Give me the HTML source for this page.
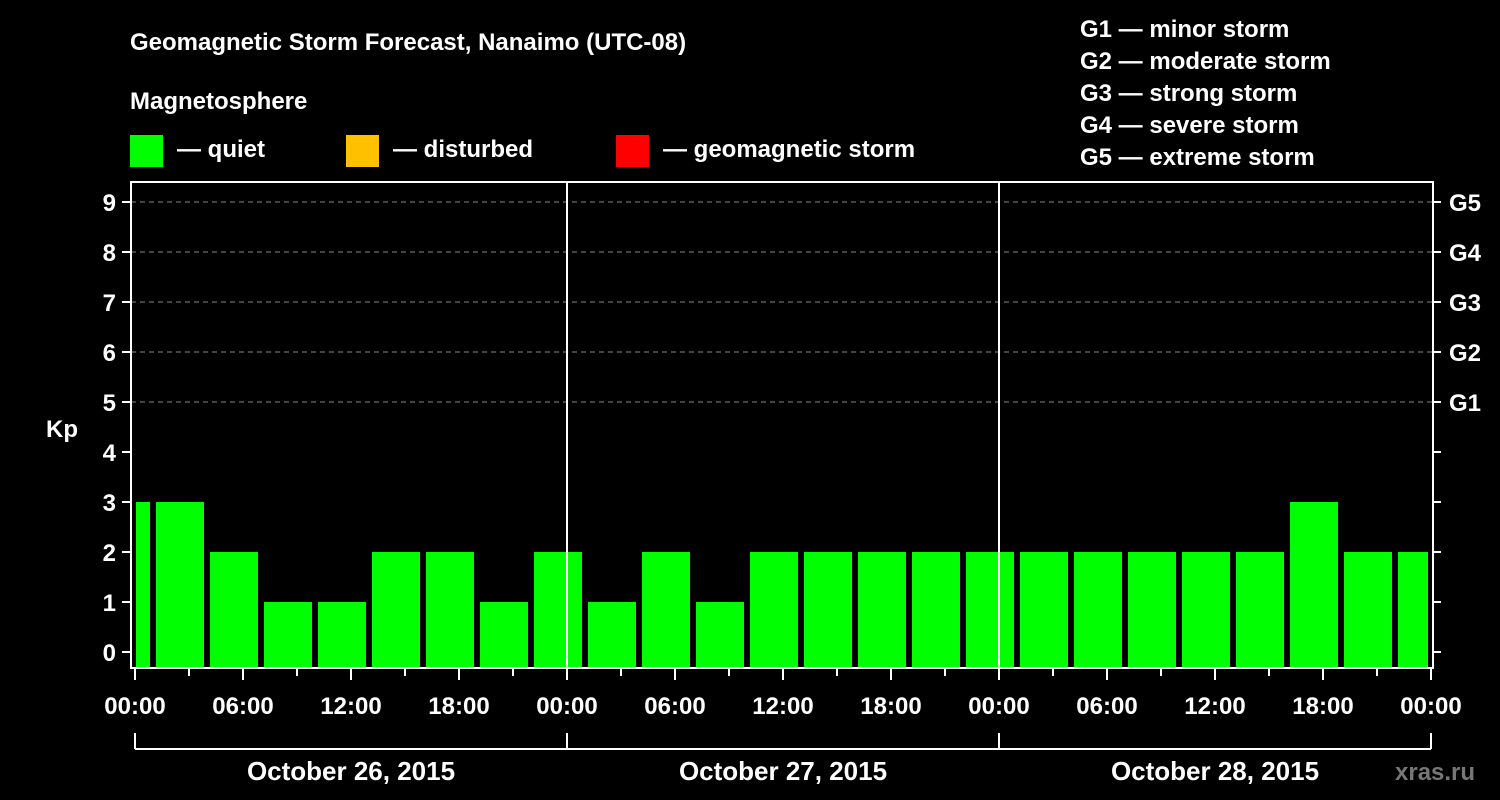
<!DOCTYPE html>
<html><head><meta charset="utf-8"><style>
html,body{margin:0;padding:0;background:#000;}
svg{display:block;font-family:"Liberation Sans",Arial,sans-serif;font-weight:bold;}
</style></head><body>
<svg id="chart" width="1500" height="800" viewBox="0 0 1500 800">
<rect x="0" y="0" width="1500" height="800" fill="#000"/>
<text x="130" y="50" fill="#fff" font-size="24">Geomagnetic Storm Forecast, Nanaimo (UTC-08)</text>
<text x="130" y="109" fill="#fff" font-size="24">Magnetosphere</text>
<g><rect x="130" y="135" width="33" height="32" fill="#00ff00"/><text x="177" y="157" fill="#fff" font-size="24">— quiet</text></g>
<g><rect x="346" y="135" width="33" height="32" fill="#ffc000"/><text x="393" y="157" fill="#fff" font-size="24">— disturbed</text></g>
<g><rect x="616" y="135" width="33" height="32" fill="#ff0000"/><text x="663" y="157" fill="#fff" font-size="24">— geomagnetic storm</text></g>
<g fill="#fff" font-size="24">
<text x="1080" y="37">G1 — minor storm</text>
<text x="1080" y="69">G2 — moderate storm</text>
<text x="1080" y="101">G3 — strong storm</text>
<text x="1080" y="133">G4 — severe storm</text>
<text x="1080" y="165">G5 — extreme storm</text>
</g>
<text x="62" y="437" fill="#fff" font-size="24" text-anchor="middle">Kp</text>
<text x="1395" y="780" fill="#777" font-size="24">xras.ru</text>
<g id="grid"></g><g id="bars"></g><g id="axes"></g>
</svg>
<script>
const kpValues = [3,3,2,1,1,2,2,1,2,1,2,1,2,2,2,2,2,2,2,2,2,2,3,2,2];
const barStartHours = [-2,1,4,7,10,13,16,19,22,25,28,31,34,37,40,43,46,49,52,55,58,61,64,67,70];
const yTickLabels = ["0","1","2","3","4","5","6","7","8","9"];
const gLabels = ["G1","G2","G3","G4","G5"];
const xTickLabels = ["00:00","06:00","12:00","18:00","00:00","06:00","12:00","18:00","00:00","06:00","12:00","18:00","00:00"];
const dayLabels = ["October 26, 2015","October 27, 2015","October 28, 2015"];

const NS="http://www.w3.org/2000/svg";
const X0=135, PXH=18, Y0=652, PXK=50, TOP=182, BOT=668, LEFT=131, RIGHT=1433;
const xs=h=>X0+h*PXH, ys=k=>Y0-k*PXK;
function mk(tag,attrs,parent){const e=document.createElementNS(NS,tag);for(const k in attrs)e.setAttribute(k,attrs[k]);parent.appendChild(e);return e;}
const grid=document.getElementById('grid'),bars=document.getElementById('bars'),axes=document.getElementById('axes');

for(let k=5;k<=9;k++){
  const l=mk('line',{x1:LEFT,x2:RIGHT,y1:ys(k),y2:ys(k),stroke:'#888','stroke-dasharray':'5,4','stroke-width':1},grid);
  
  
}
kpValues.forEach((v,i)=>{
  const h0=Math.max(barStartHours[i],0), h1=Math.min(barStartHours[i]+3,72);
  const x0=xs(h0)+(barStartHours[i]<0?1:3), x1=xs(h1)-3;
  const c=v>=5?'#ff0000':(v>=4?'#ffc000':'#00ff00');
  const r=mk('rect',{x:x0,y:ys(v),width:x1-x0,height:BOT-ys(v),fill:c},bars);
  
  
});
// frame
const fr=mk('rect',{x:LEFT,y:TOP,width:RIGHT-LEFT,height:BOT-TOP,fill:'none',stroke:'#fff','stroke-width':2},axes);


[1,2].forEach(d=>{
  const l=mk('line',{x1:xs(d*24),x2:xs(d*24),y1:TOP,y2:BOT,stroke:'#fff','stroke-width':2},axes);
  
  
});
yTickLabels.forEach((t,k)=>{
  mk('line',{x1:LEFT-9,x2:LEFT,y1:ys(k),y2:ys(k),stroke:'#fff','stroke-width':2},axes);
  mk('line',{x1:RIGHT,x2:RIGHT+8,y1:ys(k),y2:ys(k),stroke:'#fff','stroke-width':2},axes);
  const tx=mk('text',{x:116,y:ys(k)+9,fill:'#fff','font-size':24,'text-anchor':'end'},axes);
  tx.textContent=t;
  
  
});
gLabels.forEach((g,i)=>{
  const tx=mk('text',{x:1449,y:ys(5+i)+9,fill:'#fff','font-size':24},axes);
  tx.textContent=g;
  
  
});
for(let h=0;h<=72;h+=3){
  const major=h%6===0;
  mk('line',{x1:xs(h),x2:xs(h),y1:BOT,y2:BOT+(major?12:8),stroke:'#fff','stroke-width':2},axes);
}
xTickLabels.forEach((t,i)=>{
  const tx=mk('text',{x:xs(i*6),y:714,fill:'#fff','font-size':24,'text-anchor':'middle'},axes);
  tx.textContent=t;
  
  
});
mk('line',{x1:xs(0),x2:xs(72),y1:749,y2:749,stroke:'#fff','stroke-width':2},axes);
for(let d=0;d<=3;d++) mk('line',{x1:xs(d*24),x2:xs(d*24),y1:733,y2:749,stroke:'#fff','stroke-width':2},axes);
dayLabels.forEach((t,i)=>{
  const tx=mk('text',{x:xs(i*24+12),y:780,fill:'#fff','font-size':26,'text-anchor':'middle'},axes);
  tx.textContent=t;
  
  
});
</script>
</body></html>
